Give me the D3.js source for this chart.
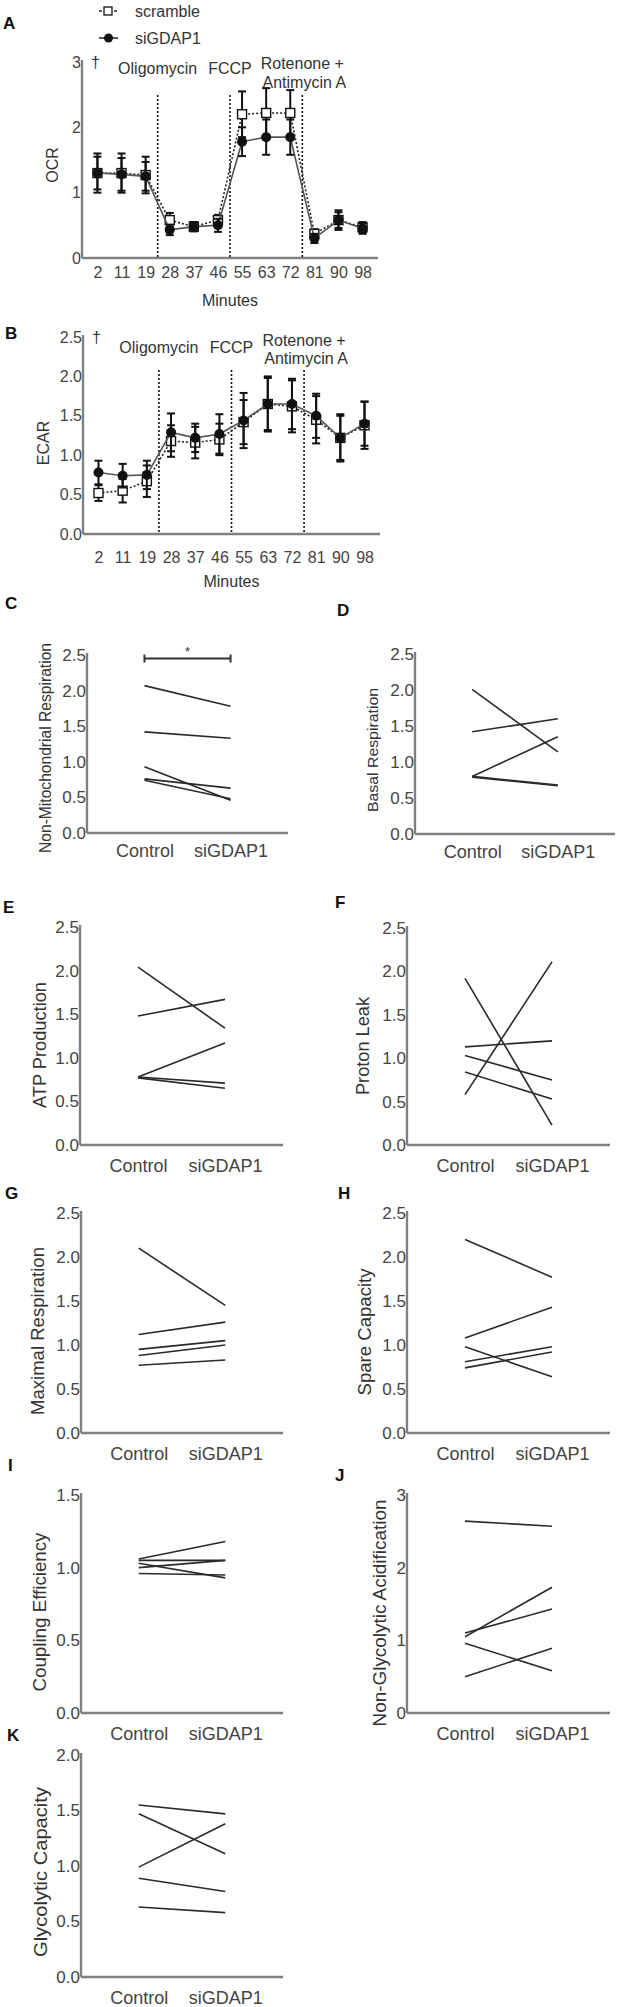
<!DOCTYPE html>
<html><head><meta charset="utf-8">
<script src="https://cdn.jsdelivr.net/npm/d3@7"></script>
<style>body{margin:0;background:#fff} text{font-family:"Liberation Sans",Arial,sans-serif}</style>
</head><body><svg id="c" width="621" height="2007"></svg>
<script>
// ---------- DATA ----------
const minutes = ["2","11","19","28","37","46","55","63","72","81","90","98"];
const groups = ["Control","siGDAP1"];

const ocrScramble    = [1.30,1.30,1.27,0.58,0.48,0.58,2.20,2.22,2.22,0.37,0.58,0.47];
const ocrScrambleErr = [0.30,0.30,0.28,0.11,0.07,0.08,0.35,0.38,0.35,0.07,0.15,0.08];
const ocrSi          = [1.30,1.28,1.25,0.43,0.48,0.50,1.78,1.85,1.85,0.30,0.58,0.45];
const ocrSiErr       = [0.25,0.25,0.22,0.08,0.07,0.10,0.22,0.27,0.27,0.07,0.12,0.08];

const ecarScramble    = [0.52,0.55,0.67,1.18,1.16,1.20,1.42,1.65,1.62,1.45,1.22,1.38];
const ecarScrambleErr = [0.10,0.15,0.20,0.20,0.20,0.20,0.28,0.33,0.33,0.30,0.30,0.30];
const ecarSi          = [0.78,0.74,0.75,1.29,1.22,1.27,1.44,1.65,1.65,1.50,1.22,1.40];
const ecarSiErr       = [0.15,0.15,0.18,0.24,0.18,0.25,0.35,0.35,0.32,0.28,0.28,0.28];

const injections = ["Oligomycin","FCCP","Rotenone +|Antimycin A"];
const injectionAfter = [2,5,8];

const nonMitoCtrl = [2.07,1.42,0.93,0.76,0.74], nonMitoSi = [1.78,1.33,0.46,0.63,0.48];
const basalCtrl   = [2.01,1.42,0.80,0.80,0.79], basalSi   = [1.14,1.60,1.35,0.68,0.67];
const atpCtrl     = [2.04,1.48,0.78,0.78,0.77], atpSi     = [1.34,1.67,1.17,0.71,0.65];
const leakCtrl    = [1.92,0.58,1.13,1.03,0.84], leakSi    = [0.23,2.11,1.20,0.75,0.53];
const maxCtrl     = [2.10,1.12,0.95,0.88,0.77], maxSi     = [1.45,1.26,1.05,1.00,0.83];
const spareCtrl   = [2.20,1.08,0.98,0.81,0.74], spareSi   = [1.77,1.43,0.64,0.98,0.92];
const coupCtrl    = [1.06,1.05,1.03,1.00,0.96], coupSi    = [1.18,1.05,0.93,1.05,0.95];
const nonGlyCtrl  = [2.64,1.05,1.10,0.96,0.50], nonGlySi  = [2.57,1.73,1.43,0.58,0.89];
const glyCapCtrl  = [1.55,1.47,0.99,0.89,0.63], glyCapSi  = [1.47,1.11,1.38,0.77,0.58];

// ---------- DRAW ----------
const svg = d3.select("#c");
svg.append("rect").attr("width",621).attr("height",2007).attr("fill","#fff");
const AX = "#808080", TXT = "#444", FF = "Liberation Sans, Arial, sans-serif";

function letter(t,x,y){
  svg.append("text").attr("x",x).attr("y",y).attr("dominant-baseline","central")
    .attr("font-size",17).attr("font-weight","bold").attr("fill","#111").text(t);
}
function ytitle(t,x,y,fs,len){
  const tx = svg.append("text").attr("transform",`translate(${x},${y}) rotate(-90)`)
    .attr("text-anchor","middle").attr("dominant-baseline","central")
    .attr("font-size",fs).attr("font-family",FF).attr("fill","#333").text(t);
  if(len) tx.attr("textLength",len).attr("lengthAdjust","spacingAndGlyphs");
}
function axes(g,x,y,cfg){
  const ya = g.append("g").attr("transform",`translate(${cfg.left},0)`)
    .call(d3.axisLeft(y).tickValues(cfg.ticks).tickSize(0).tickPadding(1).tickFormat(cfg.fmt));
  const xa = g.append("g").attr("transform",`translate(0,${cfg.bottom})`)
    .call(d3.axisBottom(x).tickSize(0).tickPadding(cfg.xpad));
  ya.select(".domain").remove(); xa.select(".domain").remove();
  ya.selectAll("text").attr("font-size",cfg.yfs).attr("fill",TXT).attr("font-family",FF);
  xa.selectAll("text").attr("font-size",cfg.xfs).attr("fill",TXT).attr("font-family",FF);
  g.append("line").attr("x1",cfg.left).attr("x2",cfg.left).attr("y1",cfg.top-2).attr("y2",cfg.bottom)
    .attr("stroke",AX).attr("stroke-width",2.4);
  g.append("line").attr("x1",cfg.left).attr("x2",cfg.right).attr("y1",cfg.bottom).attr("y2",cfg.bottom)
    .attr("stroke",AX).attr("stroke-width",2.4);
}

function timePanel(cfg){
  const g = svg.append("g");
  const x = d3.scalePoint().domain(minutes).range([cfg.left,cfg.right]).padding(0.64);
  const y = d3.scaleLinear().domain([0,cfg.ymax]).range([cfg.bottom,cfg.top]);
  axes(g,x,y,cfg);
  injectionAfter.forEach((k,i)=>{
    const xx = (x(minutes[k])+x(minutes[k+1]))/2;
    g.append("line").attr("x1",xx).attr("x2",xx).attr("y1",cfg.top+33).attr("y2",cfg.bottom)
      .attr("stroke","#111").attr("stroke-width",1.6).attr("stroke-dasharray","2,2");
    const parts = injections[i].split("|");
    if(parts.length===1){
      g.append("text").attr("x",xx).attr("y",cfg.top+cfg.lab1).attr("text-anchor","middle")
        .attr("font-size",16).attr("fill","#333").text(parts[0]);
    } else {
      g.append("text").attr("x",xx).attr("y",cfg.top+cfg.lab2a).attr("text-anchor","middle")
        .attr("font-size",16).attr("fill","#333").text(parts[0]);
      g.append("text").attr("x",xx+2).attr("y",cfg.top+cfg.lab2b).attr("text-anchor","middle")
        .attr("font-size",16).attr("fill","#333").text(parts[1]);
    }
  });
  g.append("text").attr("x",cfg.left+9).attr("y",cfg.top+6).attr("font-size",16).attr("fill","#333").text("\u2020");
  g.append("text").attr("x",(cfg.left+cfg.right)/2).attr("y",cfg.xtitleY).attr("text-anchor","middle")
    .attr("dominant-baseline","central").attr("font-size",16).attr("fill","#333").text("Minutes");
  const line = d3.line().x((d,i)=>x(minutes[i])).y(d=>y(d));
  function series(vals,errs,open){
    g.append("path").datum(vals).attr("d",line).attr("fill","none")
      .attr("stroke",open?"#222":"#555").attr("stroke-width",1.6)
      .attr("stroke-dasharray",open?"2,2":null);
    vals.forEach((v,i)=>{
      const xx=x(minutes[i]);
      g.append("line").attr("x1",xx).attr("x2",xx).attr("y1",y(v-errs[i])).attr("y2",y(v+errs[i]))
        .attr("stroke","#111").attr("stroke-width",2);
      [v-errs[i],v+errs[i]].forEach(e=>g.append("line").attr("x1",xx-4).attr("x2",xx+4)
        .attr("y1",y(e)).attr("y2",y(e)).attr("stroke","#111").attr("stroke-width",2));
    });
    vals.forEach((v,i)=>{
      const xx=x(minutes[i]);
      if(open) g.append("rect").attr("x",xx-4.5).attr("y",y(v)-4.5).attr("width",9).attr("height",9)
        .attr("fill","#fff").attr("stroke","#111").attr("stroke-width",1.4);
      else g.append("circle").attr("cx",xx).attr("cy",y(v)).attr("r",5).attr("fill","#111");
    });
  }
  series(cfg.s1,cfg.e1,true);
  series(cfg.s2,cfg.e2,false);
  ytitle(cfg.title,cfg.titleX,cfg.titleY,16);
}

// Legend
(function(){
  const lg = svg.append("g");
  lg.append("line").attr("x1",99).attr("x2",118).attr("y1",11).attr("y2",11).attr("stroke","#222").attr("stroke-width",1.5).attr("stroke-dasharray","3,2");
  lg.append("rect").attr("x",104).attr("y",7).attr("width",8).attr("height",8).attr("fill","#fff").attr("stroke","#111").attr("stroke-width",1.3);
  lg.append("text").attr("x",135).attr("y",11).attr("dominant-baseline","central").attr("font-size",16).attr("fill","#333").text("scramble");
  lg.append("line").attr("x1",99).attr("x2",118).attr("y1",38).attr("y2",38).attr("stroke","#222").attr("stroke-width",1.5);
  lg.append("circle").attr("cx",108.5).attr("cy",38).attr("r",4.5).attr("fill","#111");
  lg.append("text").attr("x",135).attr("y",38).attr("dominant-baseline","central").attr("font-size",16).attr("fill","#333").text("siGDAP1");
})();

letter("A",3,23);
timePanel({left:82,right:378,top:62,bottom:258,ymax:3,ticks:[0,1,2,3],fmt:d3.format("d"),xpad:9,xfs:16,yfs:16,
  s1:ocrScramble,e1:ocrScrambleErr,s2:ocrSi,e2:ocrSiErr,title:"OCR",titleX:52,titleY:165,xtitleY:300,
  lab1:12,lab2a:7,lab2b:26});
letter("B",5,333);
timePanel({left:83,right:380,top:337,bottom:534,ymax:2.5,ticks:[0,0.5,1,1.5,2,2.5],fmt:d3.format(".1f"),xpad:18,xfs:16,yfs:16,
  s1:ecarScramble,e1:ecarScrambleErr,s2:ecarSi,e2:ecarSiErr,title:"ECAR",titleX:43,titleY:443,xtitleY:581,
  lab1:16,lab2a:9,lab2b:27});

function pairPanel(cfg){
  const g = svg.append("g");
  const x = d3.scalePoint().domain(groups).range([cfg.left,cfg.right]).padding(0.667);
  const y = d3.scaleLinear().domain([0,cfg.ymax]).range([cfg.bottom,cfg.top]);
  cfg.xfs = 18; cfg.yfs = 17;
  axes(g,x,y,cfg);
  cfg.ctrl.forEach((c,i)=>{
    g.append("line").attr("x1",x(groups[0])).attr("x2",x(groups[1]))
      .attr("y1",y(c)).attr("y2",y(cfg.si[i])).attr("stroke","#2a2a2a").attr("stroke-width",1.6);
  });
  if(cfg.sig){
    const yy=y(cfg.sig), x1=x(groups[0]), x2=x(groups[1]);
    g.append("line").attr("x1",x1).attr("x2",x2).attr("y1",yy).attr("y2",yy).attr("stroke","#333").attr("stroke-width",2);
    [x1,x2].forEach(xx=>g.append("line").attr("x1",xx).attr("x2",xx).attr("y1",yy-4).attr("y2",yy+4).attr("stroke","#333").attr("stroke-width",2));
    g.append("text").attr("x",(x1+x2)/2).attr("y",yy-3).attr("text-anchor","middle").attr("font-size",13).attr("fill","#333").text("*");
  }
  ytitle(cfg.title,cfg.titleX,cfg.titleY,cfg.tfs,cfg.tlen);
}
const f1 = d3.format(".1f");
const t25=[0,0.5,1,1.5,2,2.5];
letter("C",5,603);
pairPanel({left:87,right:288,top:655,bottom:833,ymax:2.5,ticks:t25,fmt:f1,xpad:11,ctrl:nonMitoCtrl,si:nonMitoSi,sig:2.45,
  title:"Non-Mitochondrial  Respiration",titleX:45,titleY:748,tfs:16,tlen:210});
letter("D",337,610);
pairPanel({left:415,right:615,top:654,bottom:834,ymax:2.5,ticks:t25,fmt:f1,xpad:11,ctrl:basalCtrl,si:basalSi,
  title:"Basal  Respiration",titleX:372,titleY:750,tfs:15,tlen:124});
letter("E",3,907);
pairPanel({left:80,right:283,top:927,bottom:1145,ymax:2.5,ticks:t25,fmt:f1,xpad:14,ctrl:atpCtrl,si:atpSi,
  title:"ATP Production",titleX:40,titleY:1045,tfs:18,tlen:126});
letter("F",335,902);
pairPanel({left:407,right:610,top:928,bottom:1145,ymax:2.5,ticks:t25,fmt:f1,xpad:14,ctrl:leakCtrl,si:leakSi,
  title:"Proton Leak",titleX:363,titleY:1046,tfs:18,tlen:98});
letter("G",5,1193);
pairPanel({left:81,right:283,top:1213,bottom:1433,ymax:2.5,ticks:t25,fmt:f1,xpad:14,ctrl:maxCtrl,si:maxSi,
  title:"Maximal  Respiration",titleX:38,titleY:1331,tfs:18,tlen:168});
letter("H",338,1193);
pairPanel({left:407,right:610,top:1213,bottom:1433,ymax:2.5,ticks:t25,fmt:f1,xpad:14,ctrl:spareCtrl,si:spareSi,
  title:"Spare Capacity",titleX:365,titleY:1332,tfs:18,tlen:127});
letter("I",8,1465);
pairPanel({left:81,right:283,top:1495,bottom:1713,ymax:1.5,ticks:[0,0.5,1,1.5],fmt:f1,xpad:14,ctrl:coupCtrl,si:coupSi,
  title:"Coupling Efficiency",titleX:40,titleY:1612,tfs:18,tlen:159});
letter("J",335,1475);
pairPanel({left:407,right:610,top:1495,bottom:1713,ymax:3,ticks:[0,1,2,3],fmt:d3.format("d"),xpad:14,ctrl:nonGlyCtrl,si:nonGlySi,
  title:"Non-Glycolytic  Acidification",titleX:380,titleY:1613,tfs:18,tlen:227});
letter("K",7,1735);
pairPanel({left:81,right:283,top:1755,bottom:1977,ymax:2.0,ticks:[0,0.5,1,1.5,2],fmt:f1,xpad:14,ctrl:glyCapCtrl,si:glyCapSi,
  title:"Glycolytic Capacity",titleX:40,titleY:1872,tfs:19,tlen:170});
</script></body></html>
